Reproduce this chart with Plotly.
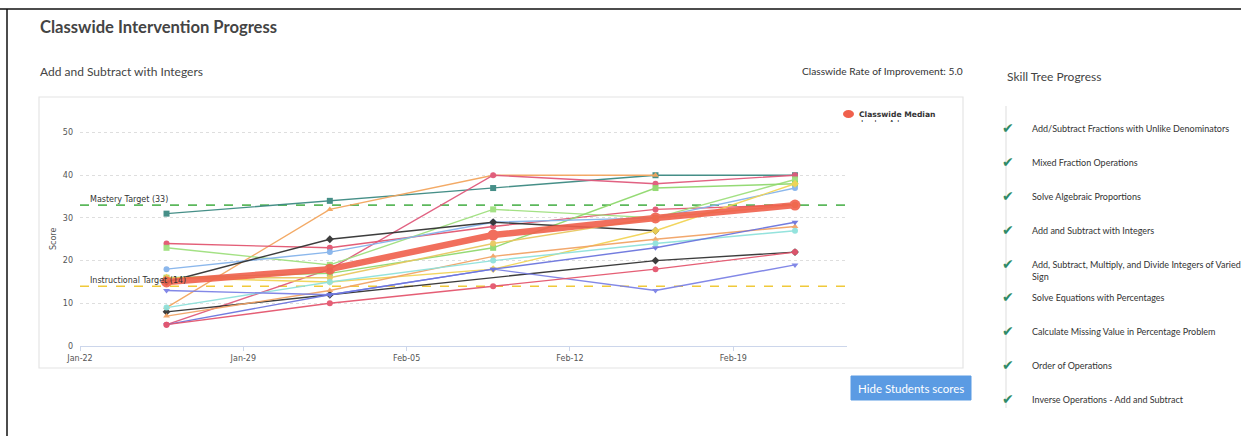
import plotly.graph_objects as go

# ---------------- data ----------------
dates = ["2018-01-25 17:00", "2018-02-01 17:00", "2018-02-08 17:00",
         "2018-02-15 16:00", "2018-02-21 15:30"]

median_name = "Classwide Median"
median_values = [15, 18, 26, 30, 33]

student_names = ["Student 1", "Student 2", "Student 3", "Student 4", "Student 5",
                 "Student 6", "Student 7", "Student 8", "Student 9", "Student 10",
                 "Student 11", "Student 12", "Student 13", "Student 14", "Student 15",
                 "Student 16"]
student_values = [
    [31, 34, 37, 40, 40],
    [9, 32, 40, 40, None],
    [24, 23, 28, 32, 33],
    [5, 18, 40, 38, 40],
    [23, 19, 32, 30, 39],
    [16, 17, 23, 37, 38],
    [18, 22, 29, 30, 37],
    [15, 25, 29, 27, None],
    [8, 12, None, 20, 22],
    [16, 15, 18, 27, 38],
    [16, 16, 24, 30, 33],
    [7, 13, 21, 25, 28],
    [9, 15, 20, 24, 27],
    [13, 12, 18, 13, 19],
    [5, 12, 18, 23, 29],
    [5, 10, 14, 18, 22],
]
student_colors = ["#3d8a82", "#f3a65e", "#e25670", "#e05a7c", "#9fe07e",
                  "#90d96e", "#85b4ec", "#333333", "#333333", "#f2d456",
                  "#e8c860", "#f2a466", "#8fe2dc", "#7c82e6", "#6c76de",
                  "#e4566e"]
student_symbols = ["square", "triangle-up", "circle", "circle", "square",
                   "square", "circle", "diamond", "diamond", "diamond",
                   "circle", "triangle-up", "circle", "triangle-down",
                   "triangle-down", "circle"]

mastery_target = 33
instructional_target = 14

x_range = ["2018-01-22 00:00", "2018-02-23 21:00"]
y_range = [0, 52]
y_ticks = [0, 10, 20, 30, 40, 50]

skills = ["Add/Subtract Fractions with Unlike Denominators",
          "Mixed Fraction Operations",
          "Solve Algebraic Proportions",
          "Add and Subtract with Integers",
          "Add, Subtract, Multiply, and Divide Integers of Varied<br>Sign",
          "Solve Equations with Percentages",
          "Calculate Missing Value in Percentage Problem",
          "Order of Operations",
          "Inverse Operations - Add and Subtract"]
skill_y = [128, 162, 196, 230, 264, 297, 331, 365, 399]

# ---------------- layout geometry ----------------
W, H = 1241, 436
L, R, T, B = 80, 394, 124, 90
PW, PH = W - L - R, H - T - B


def px(x):
    return (x - L) / PW


def py(y):
    return (H - B - y) / PH


fig = go.Figure()

for name, vals, col, sym in zip(student_names, student_values, student_colors, student_symbols):
    fig.add_trace(go.Scatter(
        x=dates, y=vals, name=name, mode="lines+markers", connectgaps=True,
        line=dict(color=col, width=1.4),
        marker=dict(color=col, symbol=sym, size=6),
        showlegend=False, opacity=0.95))

fig.add_trace(go.Scatter(
    x=dates, y=median_values, name=median_name, mode="lines+markers",
    line=dict(color="#f0604c", width=6.5),
    marker=dict(color="#f0604c", size=11, symbol="circle"),
    showlegend=False, opacity=0.9))

shapes = []
# target lines
shapes.append(dict(type="line", xref="paper", yref="y", x0=0, x1=1,
                   y0=mastery_target, y1=mastery_target,
                   line=dict(color="#5cb85c", width=1.6, dash="dash"), layer="below"))
shapes.append(dict(type="line", xref="paper", yref="y", x0=0, x1=1.0,
                   y0=instructional_target, y1=instructional_target,
                   line=dict(color="#f0c93a", width=1.6, dash="dash"), layer="below"))
# chart box
shapes.append(dict(type="rect", xref="paper", yref="paper",
                   x0=px(39), x1=px(963), y0=py(368), y1=py(97),
                   line=dict(color="#e4e4e4", width=1.2), layer="below"))
# outer page border (black top / left)
shapes.append(dict(type="line", xref="paper", yref="paper",
                   x0=px(0), x1=px(W), y0=py(9), y1=py(9),
                   line=dict(color="#111111", width=1.5)))
shapes.append(dict(type="line", xref="paper", yref="paper",
                   x0=px(7), x1=px(7), y0=py(9), y1=py(H),
                   line=dict(color="#111111", width=1.5)))
# skill tree vertical line
shapes.append(dict(type="line", xref="paper", yref="paper",
                   x0=px(1006), x1=px(1006), y0=py(106), y1=py(408),
                   line=dict(color="#dddddd", width=1)))
# button
shapes.append(dict(type="rect", xref="paper", yref="paper",
                   x0=px(851), x1=px(971), y0=py(400), y1=py(376),
                   line=dict(color="#5b9be3", width=1), fillcolor="#5b9be3"))
# legend symbol for median
shapes.append(dict(type="circle", xref="paper", yref="paper",
                   x0=px(843), x1=px(854), y0=py(118), y1=py(110),
                   line=dict(color="#f0604c", width=0), fillcolor="#f0604c"))

ann = []
LATO = "Lato"
CHF = "DejaVu Sans"
ann.append(dict(text="<b>Classwide Intervention Progress</b>", x=px(38), y=py(27),
                xanchor="left", yanchor="middle", font=dict(family=LATO, size=16.6, color="#444")))
ann.append(dict(text="Add and Subtract with Integers", x=px(38), y=py(71),
                xanchor="left", yanchor="middle", font=dict(family=LATO, size=12, color="#444")))
ann.append(dict(text="Classwide Rate of Improvement: 5.0", x=px(965), y=py(71),
                xanchor="right", yanchor="middle", font=dict(family=LATO, size=10.2, color="#333")))
ann.append(dict(text="Skill Tree Progress", x=px(1005), y=py(77),
                xanchor="left", yanchor="middle", font=dict(family=LATO, size=12, color="#444")))
ann.append(dict(text="Mastery Target (33)", x=px(88), y=py(199),
                xanchor="left", yanchor="middle", font=dict(family=CHF, size=8, color="#333")))
ann.append(dict(text="Instructional Target (14)", x=px(88), y=py(280),
                xanchor="left", yanchor="middle", font=dict(family=CHF, size=8, color="#333")))
ann.append(dict(text="Score", x=px(53), y=py(239), textangle=-90,
                xanchor="center", yanchor="middle", font=dict(family=CHF, size=8, color="#555")))
# legend (second item clipped by the chart container)
ann.append(dict(text="Jordan Adams", x=px(858), y=py(125),
                xanchor="left", yanchor="middle", font=dict(family=CHF, size=8, color="#333")))
ann.append(dict(text=" ", x=px(840), y=py(122), xanchor="left", yanchor="top",
                width=110, height=14, bgcolor="white", borderpad=0, borderwidth=0))
ann.append(dict(text="<b>Classwide Median</b>", x=px(857), y=py(114),
                xanchor="left", yanchor="middle", font=dict(family=CHF, size=7.6, color="#333")))
ann.append(dict(text="Hide Students scores", x=px(911), y=py(388),
                xanchor="center", yanchor="middle", font=dict(family=LATO, size=11.5, color="white")))
# skills
for s, yy in zip(skills, skill_y):
    ann.append(dict(text=s, x=px(1030), y=py(yy - 7.5), xanchor="left", yanchor="top", align="left",
                    font=dict(family=LATO, size=9, color="#333")))
    ann.append(dict(text="✔", x=px(1008), y=py(yy), xanchor="center", yanchor="middle",
                    font=dict(family="DejaVu Sans", size=14, color="#2e8b68")))
for a in ann:
    a.setdefault("xref", "paper")
    a.setdefault("yref", "paper")
    a.setdefault("showarrow", False)

fig.update_layout(
    width=W, height=H, margin=dict(l=L, r=R, t=T, b=B),
    paper_bgcolor="white", plot_bgcolor="white",
    shapes=shapes, annotations=ann, showlegend=False,
    xaxis=dict(type="date", range=x_range, tick0="2018-01-22", dtick=7 * 86400000,
               tickformat="%b-%d", showgrid=False, showline=True, linecolor="#ccd6eb",
               ticks="outside", ticklen=4, tickcolor="#ccd6eb", zeroline=False,
               tickfont=dict(family=CHF, size=8, color="#555")),
    yaxis=dict(range=y_range, tickvals=y_ticks, showgrid=True, gridcolor="#dedede",
               griddash="dot", zeroline=False, showline=False, ticks="",
               ticklabelstandoff=6,
               tickfont=dict(family=CHF, size=8, color="#555")),
)

fig.write_html("out.html")
